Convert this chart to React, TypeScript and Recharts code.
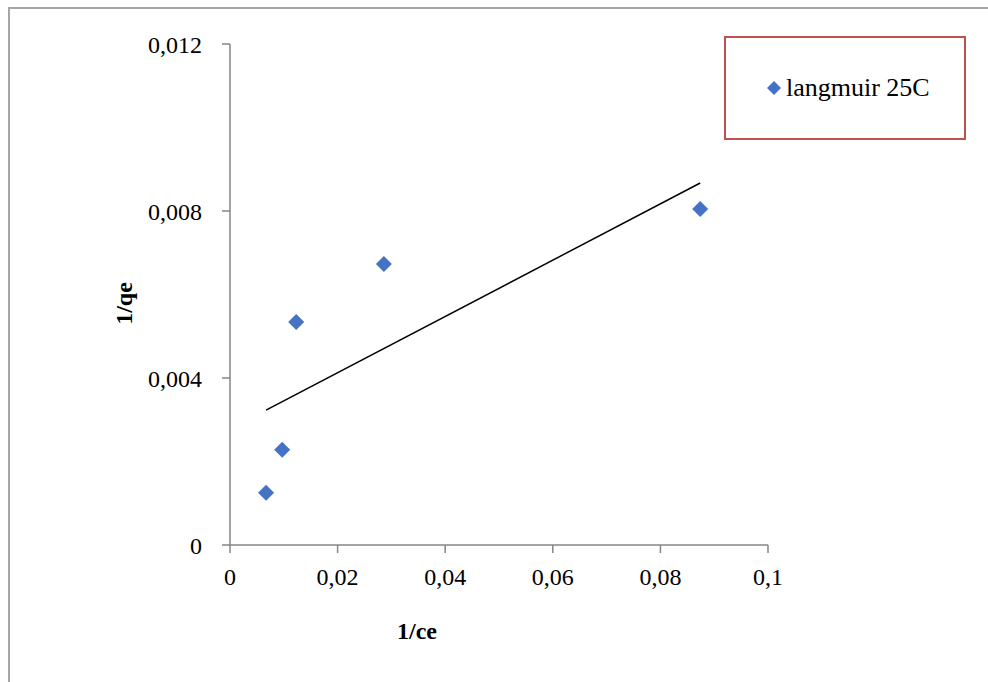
import React from 'react';
import { ScatterChart, Scatter, XAxis, YAxis, Label } from 'recharts';

// points (1/ce, 1/qe)
const ceInv: number[] = [0.0067, 0.0097, 0.0123, 0.0286, 0.0874];
const qeInv: number[] = [0.00125, 0.00228, 0.00534, 0.00673, 0.00805];

// linear trendline end points
const trendX: number[] = [0.0067, 0.0874];
const trendY: number[] = [0.00323, 0.00867];

const xTicks: number[] = [0, 0.02, 0.04, 0.06, 0.08, 0.1];
const yTicks: number[] = [0, 0.004, 0.008, 0.012];

const seriesName = 'langmuir 25C';

const points = ceInv.map((x, i) => ({ x, y: qeInv[i] }));
const trend = trendX.map((x, i) => ({ x, y: trendY[i] }));

const FONT = '"Liberation Serif", "Times New Roman", serif';
const BLUE = '#4472C4';
const AXIS = '#868686';

const fmt = (v: number) => String(v).replace('.', ',');

const Diamond = (props: any) => {
  const { cx, cy } = props;
  const r = 8;
  return (
    <polygon
      points={`${cx},${cy - r} ${cx + r},${cy} ${cx},${cy + r} ${cx - r},${cy}`}
      fill={BLUE}
    />
  );
};

// legend drawn as a plain box, like the Excel one
const LegendBox = () => (
  <div
    style={{
      position: 'absolute',
      left: 724,
      top: 36,
      width: 238,
      height: 100,
      border: '2px solid #C0504D',
      display: 'flex',
      alignItems: 'center',
      fontFamily: FONT,
      fontSize: 26,
      color: '#000',
    }}
  >
    <svg width={16} height={16} style={{ marginLeft: 40, marginRight: 4 }}>
      <polygon points="8,1 15,8 8,15 1,8" fill={BLUE} />
    </svg>
    <span>{seriesName}</span>
  </div>
);

const App: React.FC = () => {
  return (
    <div style={{ position: 'absolute', left: 0, top: 0, width: 988, height: 682, overflow: 'hidden', background: '#fff' }}>
      {/* outer frame */}
      <div
        style={{
          position: 'absolute',
          left: 8,
          top: 7,
          width: 1100,
          height: 800,
          borderLeft: '2px solid #A6A6A6',
          borderTop: '2px solid #A6A6A6',
        }}
      />
      <div style={{ position: 'absolute', left: 0, top: 0 }}>
        <ScatterChart
          width={988}
          height={682}
          margin={{ top: 44, right: 220, bottom: 77, left: 150 }}
          style={{ fontFamily: FONT }}
        >
          <XAxis
            type="number"
            dataKey="x"
            domain={[0, 0.1]}
            ticks={xTicks}
            tickFormatter={fmt}
            height={60}
            stroke={AXIS}
            strokeWidth={1.5}
            tickSize={8}
            tickMargin={15}
            tick={{ fill: '#000', fontSize: 24, fontFamily: FONT }}
          >
            <Label
              value="1/ce"
              position="bottom"
              dx={-82}
              dy={12}
              style={{ fontWeight: 'bold', fontSize: 24, fill: '#000', fontFamily: FONT }}
            />
          </XAxis>
          <YAxis
            type="number"
            dataKey="y"
            domain={[0, 0.012]}
            ticks={yTicks}
            tickFormatter={fmt}
            width={80}
            stroke={AXIS}
            strokeWidth={1.5}
            tickSize={8}
            tickMargin={20}
            tick={{ fill: '#000', fontSize: 24, fontFamily: FONT }}
          >
            <Label
              value="1/qe"
              angle={-90}
              position="left"
              dx={-22}
              dy={9}
              style={{ fontWeight: 'bold', fontSize: 24, fill: '#000', fontFamily: FONT, textAnchor: 'middle' }}
            />
          </YAxis>
          <Scatter
            name={seriesName}
            data={points}
            fill={BLUE}
            shape={<Diamond />}
            isAnimationActive={false}
          />
          <Scatter
            name="trend"
            data={trend}
            line={{ stroke: '#000', strokeWidth: 1.5 }}
            shape={() => <g />}
            legendType="none"
            isAnimationActive={false}
          />
        </ScatterChart>
      </div>
      <LegendBox />
    </div>
  );
};

export default App;
